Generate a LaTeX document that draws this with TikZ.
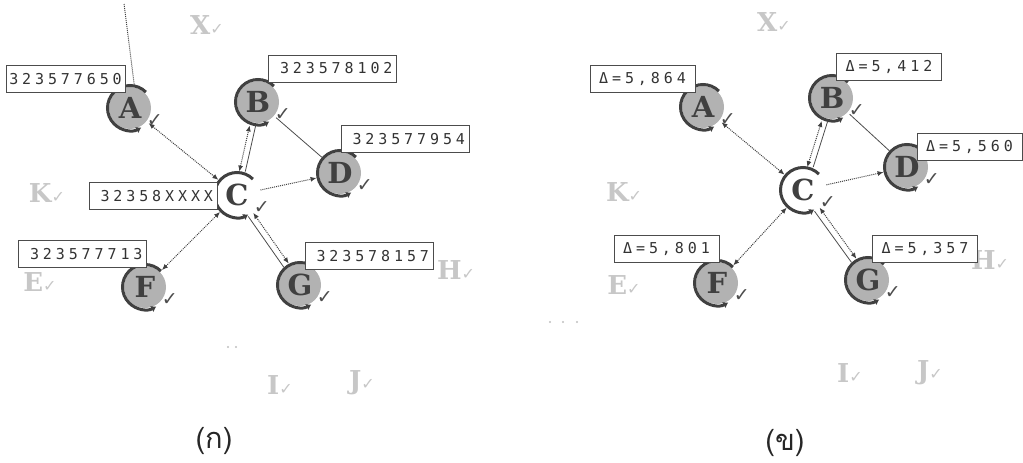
\documentclass[tikz,border=0pt]{standalone}
\usepackage{fontspec}
\usepackage{tikz}
\usetikzlibrary{arrows.meta}
\newfontfamily\tagfont[LetterSpace=26]{DejaVu Sans Mono}
\newfontfamily\peerfont{DejaVu Serif}
\newfontfamily\symfont{DejaVu Sans}
\newfontfamily\thaifont[Script=Thai]{Loma}
\newcommand{\chk}{{\symfont\char"2713}}
\newcommand{\gchk}{{\symfont\fontsize{16}{16}\selectfont\char"2713}}

\tikzset{
  peer/.style={circle, fill=gray!60, minimum size=42pt, inner sep=0pt, outer sep=3pt,
    text=black!75, font=\peerfont\bfseries\fontsize{29}{29}\selectfont,
    label={[chkmark]-10:\chk}},
  hub/.style={peer, fill=white},
  chkmark/.style={inner sep=0pt, xshift=-7pt, yshift=-2pt, text=black!70, font=\fontsize{19}{19}\selectfont},
  ring/.style={line width=3pt, draw=black!75, -{Latex[length=5pt,width=7pt]}},
  ghost/.style={text=black!22, inner sep=1pt, font=\peerfont\bfseries\fontsize{26}{26}\selectfont},
  tag/.style={draw=black!70, fill=white, line width=0.8pt, text=black!80,
    font=\tagfont\fontsize{15}{15}\selectfont, minimum height=27pt, inner ysep=2pt},
  tagL/.style={tag, text width=120pt, align=right, inner xsep=4pt},
  tagR/.style={tag, minimum width=105pt, inner xsep=3pt},
  p2p/.style={densely dotted, line width=1pt, draw=black!75},
  link/.style={line width=0.8pt, draw=black!70},
  caption/.style={text=black!85, font=\thaifont\fontsize{29}{29}\selectfont},
}

\begin{document}
\begin{tikzpicture}[x=1pt,y=-1pt,>={Latex[length=6pt,width=5pt]}]
\useasboundingbox (0,0) rectangle (1023,463);

% faded peers (left)
\node[ghost] (lX) at (207,25) {X\gchk};
\node[ghost] (lK) at (47,193) {K\gchk};
\node[ghost] (lE) at (40,282) {E\gchk};
\node[ghost] (lH) at (456,270) {H\gchk};
\node[ghost] (lI) at (280,385) {I\gchk};
\node[ghost] (lJ) at (362,383) {J\gchk};
% faded peers (right)
\node[ghost] (rX) at (774,22) {X\gchk};
\node[ghost] (rK) at (624,192) {K\gchk};
\node[ghost] (rE) at (624,285) {E\gchk};
\node[ghost] (rH) at (990,260) {H\gchk};
\node[ghost] (rI) at (850,373) {I\gchk};
\node[ghost] (rJ) at (930,373) {J\gchk};

% peers (left)
\node[peer] (lA) at (130,108) {A};
\node[peer] (lB) at (258,102) {B};
\node[hub]  (lC) at (237,195) {C};
\node[peer] (lD) at (340,173) {D};
\node[peer] (lF) at (145,287) {F};
\node[peer] (lG) at (300,285) {G};
% peers (right)
\node[peer] (rA) at (703,107) {A};
\node[peer] (rB) at (832,98) {B};
\node[hub]  (rC) at (803,190) {C};
\node[peer] (rD) at (907,167) {D};
\node[peer] (rF) at (717,283) {F};
\node[peer] (rG) at (868,280) {G};

\foreach \n in {lA,lB,lC,lD,lF,lG,rA,rB,rC,rD,rF,rG}
  \draw[ring] (\n.center) ++(45:22.5pt) arc[start angle=45, end angle=300, radius=22.5pt];

% links
\coordinate (lTop) at (124,4);
\draw[p2p] (lA.80) -- (lTop);
\foreach \p in {l,r}{
  \draw[p2p,<->] (\p A) -- (\p C);
  \draw[p2p,<->,transform canvas={xshift=-3pt}] (\p C) -- (\p B);
  \draw[link,transform canvas={xshift=3pt}] (\p C) -- (\p B);
  \draw[link] (\p B) -- (\p D);
  \draw[p2p,->] (\p C) -- (\p D);
  \draw[p2p,<->] (\p C) -- (\p F);
  \draw[link,transform canvas={shift={(-2.5pt,-1.8pt)}}] (\p C) -- (\p G);
  \draw[p2p,<->,transform canvas={shift={(2.5pt,1.8pt)}}] (\p C) -- (\p G);
}

%Text
\node[tag, minimum width=119pt, inner xsep=2pt] (tlA) at (65.5,79) {323577650};
\node[tagL] (tlB) at (332.5,68.5) {323578102};
\node[tagL] (tlD) at (405,139) {323577954};
\node[tagL] (tlC) at (153,196) {32358XXXX};
\node[tagL] (tlF) at (82.5,254) {323577713};
\node[tagL] (tlG) at (369,256) {323578157};

\node[tagR] (trA) at (642.5,78.5) {Δ=5,864};
\node[tagR] (trB) at (889,66.5) {Δ=5,412};
\node[tagR] (trD) at (969.5,146.5) {Δ=5,560};
\node[tagR] (trF) at (666.5,249) {Δ=5,801};
\node[tagR] (trG) at (925,248.5) {Δ=5,357};

\foreach \x in {228,236} \fill[black!25] (\x,347) circle (1.2pt);
\foreach \x in {550,563,577} \fill[black!25] (\x,322) circle (1.2pt);

\node[caption] (capL) at (214,441) {(ก)};
\node[caption] (capR) at (785,443) {(ข)};
\end{tikzpicture}
\end{document}
